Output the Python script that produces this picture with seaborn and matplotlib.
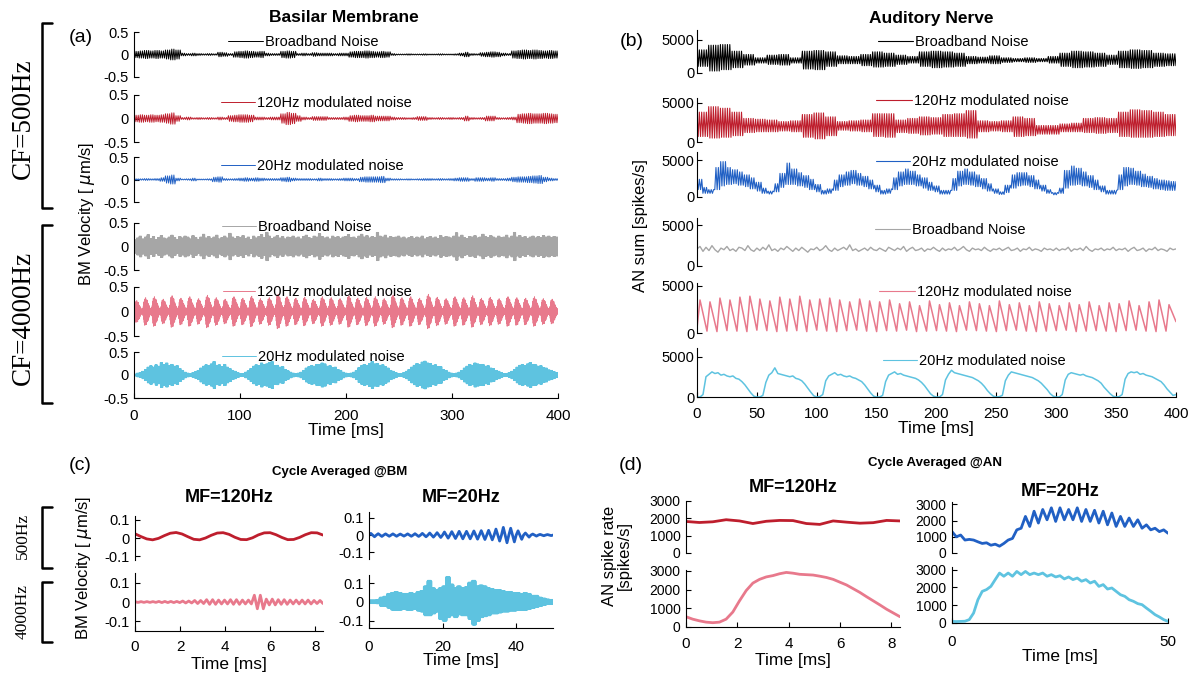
import numpy as np
import matplotlib
matplotlib.use('Agg')
import matplotlib.pyplot as plt
from matplotlib.lines import Line2D
import seaborn as sns

W, H = 1195, 675

sns.set_style("ticks", {"axes.edgecolor": "0", "xtick.color": "0", "ytick.color": "0",
                        "text.color": "0", "axes.labelcolor": "0"})
plt.rcParams['font.family'] = ['Liberation Sans', 'DejaVu Sans']
plt.rcParams['axes.unicode_minus'] = False
plt.rcParams['axes.linewidth'] = 0.8

BLACK, RED, BLUE = '#000000', '#BE1E2D', '#2160C4'
GREY, PINK, CYAN = '#A6A6A6', '#E8798C', '#5EC3E0'

# -----------------------------
# DATA
# -----------------------------
# basilar membrane envelopes, CF=500Hz: one value per 5 ms (0..400 ms)
BM500_BB = [0.07, 0.08, 0.09, 0.08, 0.09, 0.08, 0.1, 0.12, 0.1, 0.03,
            0.02, 0.03, 0.02, 0.015, 0.02, 0.015, 0.05, 0.04, 0.02, 0.06,
            0.07, 0.08, 0.07, 0.06, 0.07, 0.03, 0.02, 0.02, 0.07, 0.08,
            0.07, 0.02, 0.03, 0.02, 0.04, 0.03, 0.03, 0.03, 0.02, 0.03,
            0.03, 0.06, 0.07, 0.07, 0.08, 0.07, 0.06, 0.07, 0.06, 0.02,
            0.01, 0.01, 0.015, 0.01, 0.01, 0.015, 0.01, 0.01, 0.015, 0.01,
            0.01, 0.015, 0.03, 0.05, 0.02, 0.015, 0.04, 0.05, 0.06, 0.05,
            0.03, 0.02, 0.08, 0.09, 0.1, 0.09, 0.1, 0.09, 0.08, 0.09, 0.08]
BM500_120 = [0.07, 0.08, 0.07, 0.08, 0.07, 0.08, 0.1, 0.12, 0.06, 0.02,
             0.03, 0.015, 0.02, 0.015, 0.02, 0.015, 0.03, 0.02, 0.06, 0.07,
             0.08, 0.08, 0.07, 0.03, 0.03, 0.02, 0.03, 0.03, 0.1, 0.13,
             0.11, 0.06, 0.03, 0.02, 0.04, 0.04, 0.04, 0.02, 0.02, 0.02,
             0.03, 0.06, 0.07, 0.06, 0.06, 0.07, 0.05, 0.05, 0.05, 0.03,
             0.02, 0.02, 0.015, 0.02, 0.04, 0.04, 0.02, 0.015, 0.02, 0.015,
             0.02, 0.015, 0.02, 0.05, 0.02, 0.015, 0.02, 0.05, 0.05, 0.02,
             0.015, 0.02, 0.03, 0.09, 0.1, 0.11, 0.1, 0.1, 0.11, 0.1, 0.09]
BM500_20 = [0.015, 0.015, 0.02, 0.015, 0.02, 0.04, 0.08, 0.1, 0.03, 0.01,
            0.015, 0.03, 0.01, 0.01, 0.015, 0.05, 0.06, 0.02, 0.015, 0.02,
            0.03, 0.04, 0.03, 0.04, 0.03, 0.02, 0.02, 0.02, 0.04, 0.05,
            0.03, 0.02, 0.02, 0.02, 0.015, 0.03, 0.02, 0.02, 0.015, 0.02,
            0.03, 0.03, 0.02, 0.05, 0.06, 0.06, 0.06, 0.07, 0.03, 0.015,
            0.015, 0.01, 0.015, 0.01, 0.015, 0.02, 0.02, 0.015, 0.02, 0.015,
            0.02, 0.03, 0.04, 0.04, 0.02, 0.04, 0.04, 0.03, 0.04, 0.02,
            0.02, 0.03, 0.05, 0.06, 0.06, 0.07, 0.08, 0.09, 0.05, 0.03, 0.02]
# CF=4000Hz envelopes: one value per 2.5 ms
BM4K_BB = [0.14, 0.18, 0.22, 0.16, 0.2, 0.25, 0.17, 0.21, 0.15, 0.19, 0.23, 0.18, 0.16, 0.2, 0.24, 0.19, 0.15, 0.21, 0.18, 0.22,
           0.2, 0.16, 0.23, 0.19, 0.15, 0.2, 0.26, 0.18, 0.21, 0.17, 0.2, 0.24, 0.16, 0.19, 0.22, 0.18, 0.28, 0.2, 0.17, 0.21,
           0.19, 0.23, 0.17, 0.2, 0.15, 0.22, 0.18, 0.21, 0.25, 0.19, 0.3, 0.22, 0.17, 0.2, 0.23, 0.18, 0.21, 0.16, 0.2, 0.19,
           0.22, 0.18, 0.2, 0.16, 0.21, 0.24, 0.19, 0.17, 0.22, 0.2, 0.27, 0.21, 0.18, 0.2, 0.16, 0.22, 0.19, 0.21, 0.17, 0.2,
           0.21, 0.25, 0.19, 0.2, 0.17, 0.22, 0.26, 0.2, 0.23, 0.18, 0.21, 0.19, 0.3, 0.22, 0.2, 0.24, 0.18, 0.21, 0.19, 0.2,
           0.22, 0.18, 0.2, 0.16, 0.19, 0.21, 0.17, 0.2, 0.18, 0.22, 0.16, 0.19, 0.21, 0.18, 0.2, 0.17, 0.23, 0.19, 0.21, 0.2,
           0.18, 0.22, 0.29, 0.2, 0.24, 0.19, 0.17, 0.21, 0.2, 0.23, 0.18, 0.2, 0.26, 0.21, 0.19, 0.23, 0.2, 0.18, 0.22, 0.19,
           0.2, 0.24, 0.18, 0.22, 0.3, 0.2, 0.23, 0.19, 0.21, 0.17, 0.2, 0.22, 0.18, 0.21, 0.19, 0.23, 0.2, 0.22, 0.19, 0.21,
           0.2]
# 120 Hz modulated: peak level of each burst, and the shape of one burst (32 samples per cycle)
BM4K_120_BURST = [0.22, 0.28, 0.3, 0.25, 0.32, 0.27, 0.3, 0.26, 0.33, 0.28,
                  0.25, 0.3, 0.27, 0.31, 0.26, 0.28, 0.35, 0.3, 0.27, 0.29,
                  0.25, 0.3, 0.28, 0.26, 0.32, 0.27, 0.29, 0.3, 0.26, 0.33,
                  0.28, 0.3, 0.27, 0.35, 0.29, 0.26, 0.3, 0.28, 0.32, 0.27,
                  0.29, 0.26, 0.3, 0.28, 0.27, 0.3, 0.26, 0.25]
BURST_SHAPE = [0.25, 0.3, 0.4, 0.55, 0.7, 0.8, 0.9, 1.0, 0.85, 0.95, 1.0, 0.9, 0.8, 0.95, 0.85, 0.75,
               0.8, 0.7, 0.6, 0.65, 0.55, 0.5, 0.45, 0.4, 0.35, 0.3, 0.25, 0.22, 0.2, 0.2, 0.22, 0.22]
BM4K_20 = [0.02, 0.04, 0.05, 0.08, 0.12, 0.17, 0.2, 0.17, 0.22, 0.19, 0.27, 0.22, 0.26, 0.2, 0.23, 0.19, 0.2, 0.14, 0.1, 0.06,
           0.04, 0.03, 0.05, 0.07, 0.1, 0.15, 0.19, 0.22, 0.2, 0.24, 0.29, 0.21, 0.22, 0.18, 0.23, 0.17, 0.14, 0.1, 0.08, 0.05,
           0.03, 0.03, 0.06, 0.09, 0.14, 0.19, 0.22, 0.2, 0.26, 0.22, 0.24, 0.27, 0.29, 0.2, 0.21, 0.17, 0.18, 0.12, 0.09, 0.06,
           0.04, 0.03, 0.04, 0.06, 0.1, 0.15, 0.18, 0.2, 0.19, 0.23, 0.22, 0.26, 0.24, 0.19, 0.2, 0.16, 0.17, 0.12, 0.1, 0.06,
           0.04, 0.03, 0.04, 0.06, 0.1, 0.16, 0.2, 0.23, 0.21, 0.25, 0.29, 0.24, 0.25, 0.21, 0.22, 0.18, 0.15, 0.1, 0.08, 0.05,
           0.03, 0.03, 0.05, 0.08, 0.12, 0.17, 0.21, 0.25, 0.23, 0.28, 0.3, 0.26, 0.25, 0.21, 0.22, 0.18, 0.18, 0.12, 0.1, 0.06,
           0.04, 0.03, 0.04, 0.06, 0.1, 0.15, 0.19, 0.23, 0.21, 0.26, 0.24, 0.22, 0.23, 0.19, 0.2, 0.15, 0.14, 0.1, 0.08, 0.05,
           0.03, 0.03, 0.05, 0.08, 0.12, 0.17, 0.21, 0.23, 0.2, 0.24, 0.27, 0.23, 0.22, 0.19, 0.2, 0.16, 0.15, 0.11, 0.1, 0.07,
           0.05]

# auditory nerve, CF=500Hz: lower / upper extent per 10 ms block
AN500_BB_LO = [1000, 300, 500, 800, 1200, 1500, 1300, 1200, 1500, 600,
               500, 1000, 1400, 1400, 1100, 900, 1000, 1300, 1500, 1000,
               800, 900, 1000, 1400, 1500, 1400, 1600, 1700, 1600, 1700,
               1500, 1000, 800, 900, 1000, 1300, 800, 700, 800, 1000, 1100]
AN500_BB_HI = [3500, 4200, 4300, 3300, 2800, 2300, 2700, 2800, 2300, 3300,
               3400, 3200, 2600, 2500, 2800, 3200, 3000, 2700, 2500, 3200,
               3300, 3200, 3000, 2500, 2400, 2600, 2300, 2200, 2300, 2200,
               2500, 3000, 3300, 3200, 3000, 2700, 3300, 3500, 3400, 3000, 2900]
AN500_120_LO = [700, 500, 600, 800, 1200, 1300, 1300, 1400, 1300, 600,
                400, 800, 1500, 1400, 1300, 700, 600, 1200, 1100, 900,
                1000, 700, 700, 500, 1300, 1400, 1300, 700, 800, 1000,
                1000, 1300, 1300, 1200, 1100, 1200, 700, 600, 600, 700, 800]
AN500_120_HI = [3800, 4500, 4300, 3800, 3000, 2900, 2800, 2600, 2700, 3500,
                3700, 3200, 2600, 2700, 2800, 3600, 3600, 2800, 3000, 3200,
                3100, 3500, 3600, 4000, 2700, 2600, 2700, 3200, 3000, 2100,
                2100, 2300, 2400, 3000, 3100, 3000, 3800, 4100, 4000, 3800, 3500]
# 20 Hz modulated: lower / upper extent per 5 ms block
AN500_20_LO = [1000, 500, 500, 1000, 1500, 1700, 1800, 1600, 1400, 1100,
               800, 500, 400, 700, 1300, 1700, 1700, 1500, 1300, 1000,
               700, 400, 500, 900, 1400, 1600, 1800, 1600, 1400, 1100,
               700, 400, 500, 1000, 1500, 1700, 1700, 1500, 1200, 900,
               700, 400, 400, 900, 1500, 1700, 1600, 1400, 1100, 800,
               500, 350, 600, 1200, 1500, 1600, 1400, 1100, 800, 500,
               300, 500, 1200, 1600, 1700, 1500, 1300, 1000, 700, 400,
               400, 1000, 1500, 1700, 1600, 1400, 1300, 1100, 1000, 900, 900]
AN500_20_HI = [2400, 1300, 1000, 4000, 4800, 4000, 3700, 3400, 3000, 2600,
               2000, 1200, 800, 1800, 3200, 4600, 3800, 3300, 2900, 2400,
               1700, 900, 1100, 2300, 3000, 3400, 3600, 3200, 2800, 2300,
               1600, 900, 1100, 2600, 3400, 3800, 3500, 3000, 2600, 2000,
               1500, 900, 900, 2500, 3500, 3800, 3400, 3000, 2500, 1800,
               1100, 700, 1600, 3000, 3300, 3300, 2900, 2300, 1600, 1000,
               600, 1200, 3600, 4200, 3900, 3400, 2900, 2300, 1500, 900,
               900, 3000, 4000, 3900, 3500, 3100, 2800, 2500, 2300, 2200, 2100]
# CF=4000Hz broadband: one value per 2.5 ms
AN4K_BB = [2100, 2400, 1800, 2300, 1900, 2500, 2000, 1700, 2200, 2000, 2400, 1900, 2100, 1800, 2300, 2200, 1900, 2500, 2000, 1800,
           2200, 1900, 2300, 2000, 2600, 1900, 2100, 1800, 2200, 2000, 2400, 2100, 1800, 2200, 1900, 2300, 2000, 1700, 2100, 2000,
           2300, 1900, 2100, 2500, 2000, 1800, 2200, 1900, 2100, 2300, 2000, 2600, 1900, 2100, 1800, 2000, 2200, 1900, 2300, 2000,
           1900, 2200, 2000, 1800, 2300, 2100, 1900, 2200, 2000, 2400, 1800, 2100, 2300, 1900, 2000, 2200, 1800, 2100, 2000, 2300,
           2000, 1800, 2200, 1900, 2100, 2000, 2300, 1900, 2100, 2400, 2000, 1800, 2200, 2000, 2100, 1900, 2300, 2000, 1800, 2100,
           2000, 2200, 1900, 2100, 2300, 1900, 2000, 2200, 1800, 2100, 2000, 2300, 1900, 2100, 2000, 1800, 2200, 2000, 2100, 1900,
           2200, 1900, 2100, 2000, 2300, 1800, 2100, 2000, 2200, 1900, 2400, 2000, 1800, 2100, 2000, 2200, 1900, 2100, 2000, 2300,
           1900, 2100, 2000, 2200, 1800, 2100, 2300, 1900, 2000, 2200, 1800, 2100, 2000, 2300, 1900, 2100, 2000, 1800, 2200, 2000,
           2100]
# 120 Hz locked response: one peak per cycle, troughs at cycle starts
AN4K_120_PEAK = [3500, 3300, 3700, 3500, 3800, 3900, 3600, 3400, 3800, 3600,
                 3900, 3500, 3600, 3700, 3500, 3300, 3600, 3400, 3300, 3500,
                 3100, 3300, 2900, 3400, 3000, 3200, 2900, 3300, 3100, 2900,
                 3400, 3000, 3200, 2900, 3300, 3100, 2900, 3200, 3000, 3300,
                 2900, 3200, 3100, 3400, 2900, 3300, 3500, 3000]
AN4K_120_TROUGH = [500, 200, 150, 250, 200, 150, 300, 250, 150, 200,
                   250, 150, 300, 200, 150, 250, 300, 200, 150, 250,
                   200, 300, 150, 200, 250, 200, 150, 300, 250, 200,
                   150, 250, 300, 200, 150, 200, 250, 300, 150, 200,
                   250, 200, 150, 250, 300, 200, 150, 200, 1200]
# 20 Hz modulated, one value per 2.5 ms
AN4K_20 = [0, 0, 300, 2500, 2800, 3100, 2900, 3000, 2700, 2800, 2600, 2500, 2600, 2300, 2200, 1900, 1500, 1000, 500, 100,
           0, 0, 200, 1800, 2700, 3000, 3600, 2900, 2800, 2700, 2600, 2500, 2600, 2300, 2200, 2000, 1600, 1100, 600, 150,
           0, 50, 300, 2000, 2600, 2800, 3000, 2700, 2800, 2600, 2500, 2600, 2400, 2300, 2100, 1900, 1500, 1000, 500, 100,
           0, 0, 200, 1900, 2700, 2900, 3100, 2800, 2900, 2700, 2600, 2500, 2400, 2300, 2100, 1800, 1400, 900, 400, 100,
           0, 0, 300, 2100, 2800, 3300, 3000, 2900, 2800, 2700, 2600, 2500, 2400, 2200, 2000, 1700, 1300, 800, 400, 100,
           0, 50, 200, 2000, 2700, 3100, 3000, 2900, 2800, 2700, 2600, 2500, 2400, 2200, 2000, 1700, 1300, 900, 400, 100,
           0, 0, 300, 2100, 2800, 3000, 2900, 2800, 2700, 2800, 2600, 2500, 2400, 2200, 2000, 1700, 1200, 800, 400, 100,
           0, 50, 300, 2200, 2900, 3100, 3000, 3100, 2800, 2900, 2700, 2600, 2500, 2300, 2100, 1900, 1500, 1000, 600, 200,
           300]

# cycle averaged @BM
C120_500 = [0.023, 0.008, -0.005, -0.010, -0.002, 0.013, 0.026, 0.030, 0.022, 0.007,
            -0.007, -0.010, 0.000, 0.015, 0.027, 0.029, 0.020, 0.004, -0.008, -0.009,
            0.001, 0.017, 0.028, 0.029, 0.018, 0.003, -0.009, -0.008, 0.003, 0.018,
            0.029, 0.028, 0.016]
C120_4K_ENV = [0.002, 0.002, 0.003, 0.003, 0.005, 0.008, 0.012, 0.01,
               0.012, 0.01, 0.035, 0.015, 0.012, 0.01, 0.01, 0.008]
C20_500_ENV = [0.01, 0.008, 0.007, 0.007, 0.006, 0.007, 0.008, 0.01, 0.012, 0.014,
               0.018, 0.02, 0.022, 0.022, 0.024, 0.026, 0.028, 0.035, 0.045, 0.04,
               0.025, 0.012, 0.006, 0.004, 0.003]
C20_4K_UP = [0.005, 0.005, 0.006, 0.02, 0.025, 0.04, 0.045, 0.05, 0.045, 0.04,
             0.04, 0.045, 0.04, 0.05, 0.055, 0.08, 0.11, 0.07, 0.06, 0.07,
             0.08, 0.13, 0.09, 0.07, 0.08, 0.07, 0.075, 0.1, 0.11, 0.08,
             0.085, 0.08, 0.07, 0.065, 0.06, 0.06, 0.055, 0.05, 0.05, 0.045,
             0.045, 0.04, 0.045, 0.04, 0.03, 0.03, 0.02, 0.015, 0.01, 0.008]
C20_4K_DN = [0.005, 0.005, 0.006, 0.02, 0.02, 0.03, 0.04, 0.04, 0.04, 0.035,
             0.04, 0.04, 0.035, 0.045, 0.05, 0.07, 0.07, 0.06, 0.05, 0.09,
             0.1, 0.08, 0.07, 0.08, 0.065, 0.07, 0.07, 0.09, 0.12, 0.1,
             0.08, 0.075, 0.07, 0.06, 0.06, 0.055, 0.05, 0.05, 0.045, 0.045,
             0.04, 0.04, 0.04, 0.035, 0.03, 0.025, 0.02, 0.015, 0.01, 0.008]

# cycle averaged @AN
D120_500 = [1820, 1760, 1800, 1920, 1850, 1700, 1830, 1880, 1870, 1700,
            1650, 1850, 1780, 1720, 1750, 1880, 1850]
D120_4K = [550, 420, 330, 260, 230, 260, 420, 800, 1400, 1950, 2350, 2550, 2680,
           2750, 2850, 2920, 2880, 2820, 2800, 2780, 2720, 2650, 2550, 2400, 2250,
           2050, 1850, 1620, 1400, 1180, 950, 750, 550]
D20_500 = [1320, 1000, 1110, 800, 840, 800, 690, 590, 630, 480,
           545, 420, 590, 800, 900, 1430, 1530, 2260, 1640, 2580,
           1850, 2690, 2050, 2790, 1950, 2790, 2050, 2690, 2050, 2790,
           1950, 2690, 1950, 2640, 1850, 2580, 1740, 2470, 1640, 2260,
           1640, 2160, 1640, 2050, 1530, 1740, 1430, 1530, 1320, 1430, 1220]
D20_4K = [90, 80, 90, 100, 190, 560, 1310, 1780, 1880, 2060,
          2440, 2810, 2630, 2810, 2630, 2900, 2720, 2900, 2720, 2810,
          2720, 2810, 2630, 2720, 2590, 2660, 2480, 2590, 2440, 2530,
          2350, 2440, 2250, 2350, 2060, 2160, 1910, 1970, 1780, 1590,
          1500, 1310, 1220, 1090, 1030, 840, 660, 470, 340, 190, 90]


# -----------------------------
# HELPERS
# -----------------------------
def hold_zig(lower, upper, per):
    # each read block held for `per` samples, swinging between its lower and upper reading
    lo = np.repeat(np.asarray(lower, float), per)
    hi = np.repeat(np.asarray(upper, float), per)
    y = hi.copy()
    y[1::2] = lo[1::2]
    return y


def env_zig(env, per):
    e = np.asarray(env, float)
    return hold_zig(-e, e, per)


fig = plt.figure(figsize=(W / 100, H / 100), dpi=100)


def box(l, t, r, b):
    return fig.add_axes([l / W, 1 - b / H, (r - l) / W, (b - t) / H])


def style(ax, bottom, ysize=10.5, ypad=4, xpad=8):
    sns.despine(ax=ax, top=True, right=True, bottom=not bottom)
    ax.tick_params(axis='y', direction='in', length=3.5, width=0.8, labelsize=ysize, pad=ypad)
    ax.tick_params(axis='x', direction='in', length=3.5, width=0.8, labelsize=11, pad=xpad)
    if not bottom:
        ax.tick_params(axis='x', bottom=False, labelbottom=False)
    ax.set_xlabel('')
    ax.set_ylabel('')
    ax.patch.set_alpha(0)


def ftext(x, y, s, **kw):
    kw.setdefault('ha', 'center')
    kw.setdefault('va', 'center')
    fig.text(x / W, 1 - y / H, s, **kw)


def bracket(top, bot):
    fig.add_artist(Line2D([52 / W, 42 / W, 42 / W, 52 / W],
                          [1 - top / H, 1 - top / H, 1 - bot / H, 1 - bot / H],
                          transform=fig.transFigure, color='black', lw=1.8))


# -----------------------------
# (a) BASILAR MEMBRANE
# -----------------------------
pink_env = np.concatenate([b * np.asarray(BURST_SHAPE) for b in BM4K_120_BURST])
a_rows = [
    (env_zig(BM500_BB, 5), BLACK, 'Broadband Noise', (32, 77), (228, 42, 2.4)),
    (env_zig(BM500_120, 5), RED, '120Hz modulated noise', (95, 142), (221, 103, 2.3)),
    (env_zig(BM500_20, 5), BLUE, '20Hz modulated noise', (157, 202), (221, 166, 2.3)),
    (env_zig(BM4K_BB, 10), GREY, 'Broadband Noise', (223, 270), (222, 227, 2.3)),
    (env_zig(pink_env, 1), PINK, '120Hz modulated noise', (287, 336), (223, 292, 2.2)),
    (env_zig(BM4K_20, 10), CYAN, '20Hz modulated noise', (352, 398), (222, 357, 2.3)),
]
for i, (sig, col, lab, (top, bot), (lx, ly, hl)) in enumerate(a_rows):
    ax = box(134, top, 558, bot)
    t = np.linspace(0, 400, len(sig))
    sns.lineplot(x=t, y=sig, ax=ax, color=col, lw=0.7, label=lab, estimator=None)
    ax.set_xlim(0, 400)
    ax.set_ylim(-0.5, 0.5)
    ax.set_yticks([-0.5, 0, 0.5])
    ax.set_yticklabels(['-0.5', '0', '0.5'])
    last = i == len(a_rows) - 1
    style(ax, last, xpad=8)
    if last:
        ax.set_xticks([0, 100, 200, 300, 400])
    ax.legend(loc='center left', bbox_to_anchor=(lx / W, 1 - ly / H), bbox_transform=fig.transFigure,
              frameon=False, fontsize=10.5, handlelength=hl, handletextpad=0.15,
              borderpad=0, borderaxespad=0)

# -----------------------------
# (b) AUDITORY NERVE
# -----------------------------
pk_t = np.arange(len(AN4K_120_PEAK)) * (1000 / 120) + 2.5
tr_t = np.arange(len(AN4K_120_TROUGH)) * (1000 / 120)
an120_t = np.r_[tr_t, pk_t]
an120_y = np.r_[AN4K_120_TROUGH, AN4K_120_PEAK]
order = np.argsort(an120_t)
an120_t, an120_y = np.clip(an120_t[order], 0, 400), an120_y[order]

b_rows = [
    (None, hold_zig(AN500_BB_LO, AN500_BB_HI, 10), BLACK, 'Broadband Noise', 0.8, (30, 73, 6500), (878, 42, 2.4)),
    (None, hold_zig(AN500_120_LO, AN500_120_HI, 10), RED, '120Hz modulated noise', 0.8, (98, 142, 5600), (876, 101, 2.45)),
    (None, hold_zig(AN500_20_LO, AN500_20_HI, 5), BLUE, '20Hz modulated noise', 0.8, (152, 197, 6100), (876, 162, 2.3)),
    (None, np.asarray(AN4K_BB, float), GREY, 'Broadband Noise', 1.0, (218, 266, 5900), (875, 230, 2.4)),
    (an120_t, an120_y, PINK, '120Hz modulated noise', 1.1, (283, 333, 5300), (879, 292, 2.45)),
    (None, np.asarray(AN4K_20, float), CYAN, '20Hz modulated noise', 1.1, (348, 397, 6050), (883, 361, 2.3)),
]
for i, (t, sig, col, lab, lw, (top, bot, ymax), (lx, ly, hl)) in enumerate(b_rows):
    ax = box(697, top, 1176, bot)
    if t is None:
        t = np.linspace(0, 400, len(sig))
    sns.lineplot(x=t, y=sig, ax=ax, color=col, lw=lw, label=lab, estimator=None, sort=False)
    ax.set_xlim(0, 400)
    ax.set_ylim(0, ymax)
    ax.set_yticks([0, 5000])
    ax.set_yticklabels(['0', '5000'])
    last = i == len(b_rows) - 1
    style(ax, last, ypad=2, xpad=7.5)
    if last:
        ax.set_xticks(np.arange(0, 401, 50))
    leg = ax.legend(loc='center left', bbox_to_anchor=(lx / W, 1 - ly / H), bbox_transform=fig.transFigure,
                    frameon=False, fontsize=10.5, handlelength=hl, handletextpad=0.15,
                    borderpad=0, borderaxespad=0)
    for h in leg.get_lines():
        h.set_linewidth(0.8)

# -----------------------------
# (c) CYCLE AVERAGED @BM
# -----------------------------
c_axes = [
    ((135, 516, 323, 560), (-0.12, 0.12), 8.333, np.asarray(C120_500), RED, False),
    ((135, 573, 323, 631), (-0.15, 0.15), 8.333, env_zig(C120_4K_ENV, 4), PINK, True),
    ((369, 512, 553, 559), (-0.14, 0.135), 50,
     np.r_[np.ravel([[0, a, 0, -a] for a in C20_500_ENV]), 0], BLUE, False),
    ((369, 575, 553, 628), (-0.14, 0.143), 50,
     hold_zig(-np.asarray(C20_4K_DN), C20_4K_UP, 8), CYAN, True),
]
for (l, tp, r, b), ylim, tmax, sig, col, last in c_axes:
    ax = box(l, tp, r, b)
    t = np.linspace(0, tmax, len(sig))
    sns.lineplot(x=t, y=sig, ax=ax, color=col, lw=2.0, estimator=None)
    ax.set_xlim(0, tmax)
    ax.set_ylim(*ylim)
    ax.set_yticks([-0.1, 0, 0.1])
    ax.set_yticklabels(['-0.1', '0', '0.1'])
    style(ax, last, ypad=4, xpad=6.5 if tmax < 10 else 8.5)
    if last:
        ax.set_xticks([0, 2, 4, 6, 8] if tmax < 10 else [0, 20, 40])

# -----------------------------
# (d) CYCLE AVERAGED @AN
# -----------------------------
d_axes = [
    ((686, 501, 900, 553), 3000, 8.333, D120_500, RED, False),
    ((686, 570, 900, 627), 3050, 8.333, D120_4K, PINK, True),
    ((952, 502, 1168, 553), 3150, 50, D20_500, BLUE, False),
    ((952, 567, 1168, 623), 3150, 50, D20_4K, CYAN, True),
]
for (l, tp, r, b), ymax, tmax, sig, col, last in d_axes:
    ax = box(l, tp, r, b)
    t = np.linspace(0, tmax, len(sig))
    sns.lineplot(x=t, y=np.asarray(sig, float), ax=ax, color=col, lw=2.0, estimator=None)
    ax.set_xlim(0, tmax)
    ax.set_ylim(0, ymax)
    ax.set_yticks([0, 1000, 2000, 3000])
    ax.set_yticklabels(['0', '1000', '2000', '3000'])
    style(ax, last, ysize=10, ypad=4, xpad=7 if tmax < 10 else 9)
    if last:
        ax.set_xticks([0, 2, 4, 6, 8] if tmax < 10 else [0, 50])

# -----------------------------
# TEXT AND BRACKETS
# -----------------------------
ftext(344, 18, 'Basilar Membrane', fontsize=12.5, fontweight='bold')
ftext(931, 18, 'Auditory Nerve', fontsize=12.5, fontweight='bold')
ftext(81, 37, '(a)', fontsize=14)
ftext(632, 42, '(b)', fontsize=14)
ftext(80, 466, '(c)', fontsize=14)
ftext(631, 466, '(d)', fontsize=14)
ftext(87, 214, r'BM Velocity [ $\mu$m/s]', fontsize=12, rotation=90)
ftext(640, 226, 'AN sum [spikes/s]', fontsize=12, rotation=90)
ftext(84, 568, r'BM Velocity [ $\mu$m/s]', fontsize=12, rotation=90)
ftext(617, 556, 'AN spike rate\n[spikes/s]', fontsize=12, rotation=90, linespacing=1.05)
ftext(346, 430, 'Time [ms]', fontsize=12.5)
ftext(936, 428, 'Time [ms]', fontsize=12.5)
ftext(229, 664, 'Time [ms]', fontsize=12.5)
ftext(461, 661, 'Time [ms]', fontsize=12.5)
ftext(793, 661, 'Time [ms]', fontsize=12.5)
ftext(1060, 657, 'Time [ms]', fontsize=12.5)
ftext(340, 472, 'Cycle Averaged @BM', fontsize=9.5, fontweight='bold')
ftext(935, 463, 'Cycle Averaged @AN', fontsize=9.5, fontweight='bold')
ftext(229, 498, 'MF=120Hz', fontsize=13, fontweight='bold')
ftext(461, 498, 'MF=20Hz', fontsize=13, fontweight='bold')
ftext(793, 488, 'MF=120Hz', fontsize=13, fontweight='bold')
ftext(1060, 491, 'MF=20Hz', fontsize=13, fontweight='bold')

serif = ['Liberation Serif', 'DejaVu Serif']
ftext(23, 119, 'CF=500Hz', fontsize=19.5, rotation=90, family=serif)
ftext(23, 318, 'CF=4000Hz', fontsize=19.5, rotation=90, family=serif)
ftext(23, 536, '500Hz', fontsize=12.5, rotation=90, family=serif)
ftext(23, 612, '4000Hz', fontsize=12.5, rotation=90, family=serif)
bracket(23, 208)
bracket(225, 403)
bracket(507, 568)
bracket(582, 642)

fig.savefig('out.png', dpi=100)
